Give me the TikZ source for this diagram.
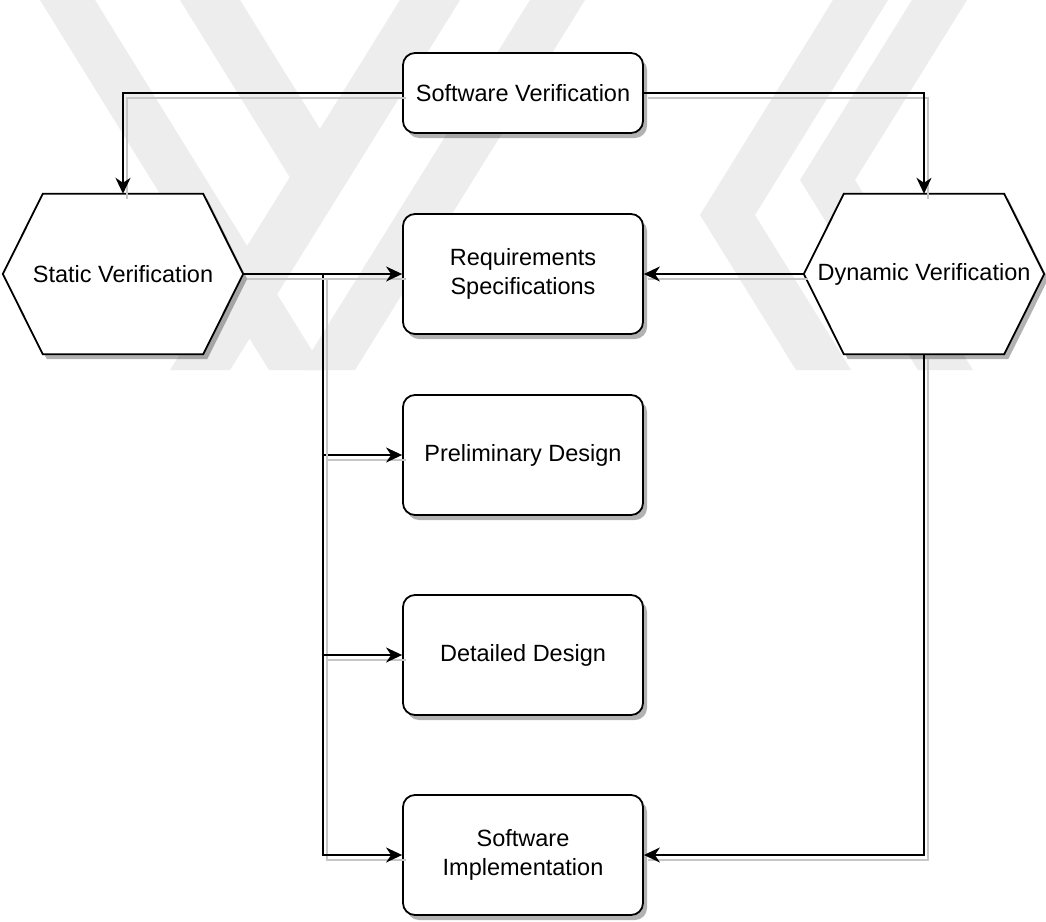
\documentclass[tikz,border=0pt]{standalone}
\usepackage{fontspec}
\setmainfont{Liberation Sans}
\usetikzlibrary{arrows.meta,shadows,calc}
\begin{document}
\begin{tikzpicture}[x=1pt,y=-1pt,
  lbl/.style={font=\fontsize{23.5}{28.5}\selectfont, align=center},
  box/.style={lbl, draw, line width=1.8pt, rounded corners=12pt, minimum width=240pt, minimum height=120pt, inner sep=0pt, fill=white,
    drop shadow={shadow xshift=4pt, shadow yshift=-5pt, fill=black, opacity=0.3}},
  hexnode/.style={lbl, minimum width=240pt, minimum height=160pt, inner sep=0pt},
  hexdraw/.style={draw, line width=1.8pt, fill=white, line join=miter,
    drop shadow={shadow xshift=4pt, shadow yshift=-5pt, fill=black, opacity=0.3}},
  conn/.style={draw, line width=1.8pt, -{Stealth[length=16pt,width=15pt,inset=5pt]},
    preaction={draw=black!22, line width=1.8pt, -, transform canvas={shift={(4pt,-5pt)}}}},
  wm/.style={fill=black!7}]
\useasboundingbox (0,0) rectangle (1046,921);
\fill[white] (0,0) rectangle (1046,921);

% watermark
\begin{scope}
\clip (0,0) rectangle (1046,370);
\fill[wm] (40,0) -- (95,0) -- (324,370) -- (269,370) -- cycle;
\fill[wm] (180,0) -- (240,0) -- (320,129) -- (320,226) -- cycle;
\fill[wm] (400,0) -- (460,0) -- (230,370) -- (170,370) -- cycle;
\fill[wm] (530,0) -- (585,0) -- (355,370) -- (300,370) -- cycle;
\fill[wm] (700,215) -- (833,0) -- (888,0) -- (755,215) -- (851,370) -- (796,370) -- cycle;
\fill[wm] (800,180) -- (912,0) -- (967,0) -- (855,180) -- (973,370) -- (918,370) -- cycle;
\end{scope}

% nodes
\node[box, minimum height=80pt] (sv) at (523,93) {Software Verification};
\node[box] (req) at (523,274) {Requirements\\Specifications};
\node[box] (pd) at (523,455) {Preliminary Design};
\node[box] (dd) at (523,655) {Detailed Design};
\node[box] (si) at (523,855) {Software\\Implementation};
\node[hexnode] (st) at (123,274) {};
\node[hexnode] (dv) at (924,274) {};
\foreach \h in {st,dv}{
  \draw[hexdraw] (\h.west) -- ($(\h.north west)+(40,0)$) -- ($(\h.north east)+(-40,0)$) -- (\h.east)
     -- ($(\h.south east)+(-40,0)$) -- ($(\h.south west)+(40,0)$) -- cycle;
}
\node[lbl] at (st.center) {Static Verification};
\node[lbl] at (dv.center) {Dynamic Verification};

% connectors
\coordinate (br) at ($(st.east)!0.5!(req.west)$);
\draw[conn] (sv.west) -| (st.north);
\draw[conn] (sv.east) -| (dv.north);
\draw[conn] (br) |- (si.west);
\draw[conn] (br) |- (pd.west);
\draw[conn] (br) |- (dd.west);
\draw[conn] (st.east) -- (req.west);
\draw[conn] (dv.west) -- (req.east);
\draw[conn] (dv.south) |- (si.east);
\end{tikzpicture}
\end{document}
